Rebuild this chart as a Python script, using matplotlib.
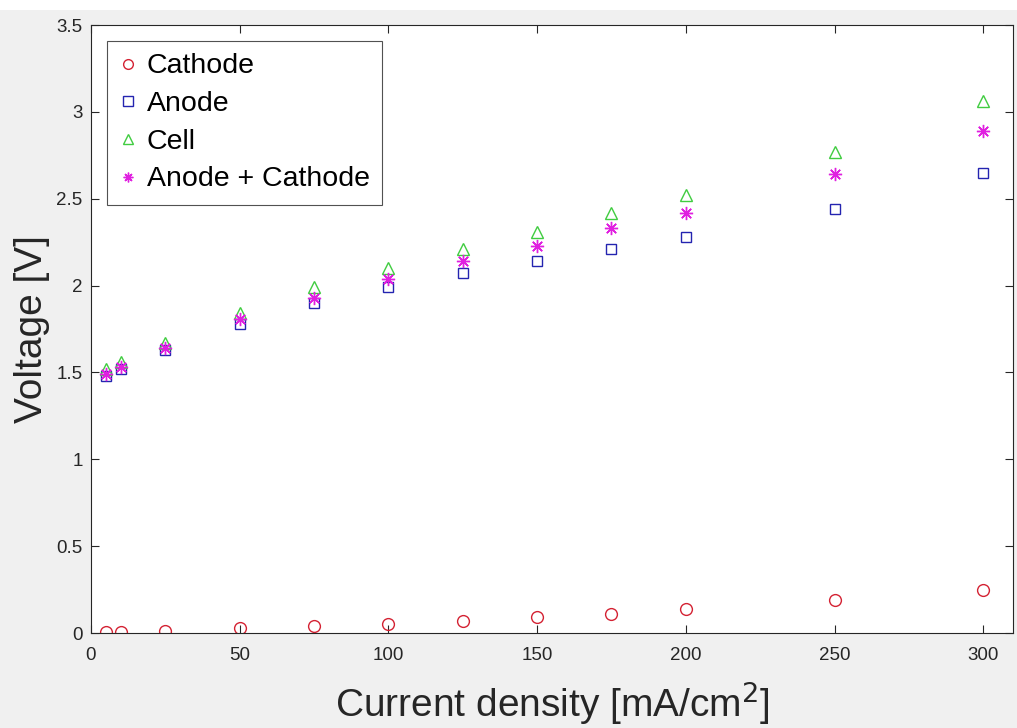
import matplotlib
matplotlib.use("Agg")
import matplotlib.pyplot as plt

plt.rcParams['font.family'] = ['Liberation Sans', 'DejaVu Sans']

current = [5, 10, 25, 50, 75, 100, 125, 150, 175, 200, 250, 300]
cathode = [0.003, 0.005, 0.01, 0.03, 0.04, 0.05, 0.07, 0.09, 0.11, 0.14, 0.19, 0.25]
anode = [1.48, 1.52, 1.63, 1.78, 1.90, 1.99, 2.07, 2.14, 2.21, 2.28, 2.44, 2.65]
cell = [1.52, 1.56, 1.67, 1.84, 1.99, 2.10, 2.21, 2.31, 2.42, 2.52, 2.77, 3.06]
anode_cathode = [1.49, 1.53, 1.64, 1.81, 1.93, 2.04, 2.14, 2.23, 2.33, 2.42, 2.64, 2.89]

xticks = [0, 50, 100, 150, 200, 250, 300]
yticks = [0, 0.5, 1, 1.5, 2, 2.5, 3, 3.5]
ytick_labels = ['0', '0.5', '1', '1.5', '2', '2.5', '3', '3.5']

fig = plt.figure(figsize=(10.17, 7.28), dpi=100, facecolor='#f0f0f0')
fig.patches.append(plt.Rectangle((0, 1 - 10 / 728), 1, 10 / 728, transform=fig.transFigure,
                                 facecolor='white', edgecolor='none', zorder=-1))
ax = fig.add_axes([91 / 1017, 1 - 633 / 728, (1013 - 91) / 1017, (633 - 25) / 728])
ax.set_facecolor('white')

ax.plot(current, cathode, 'o', mfc='none', mec='#d42233', ms=8.5, mew=1.0,
        linestyle='none', label='Cathode')
ax.plot(current, anode, 's', mfc='none', mec='#2424b0', ms=7.5, mew=1.0,
        linestyle='none', label='Anode')
ax.plot(current, cell, '^', mfc='none', mec='#40cc40', ms=8.5, mew=1.0,
        linestyle='none', label='Cell')
ax.plot(current, anode_cathode, marker=(8, 2, 0), mec='#e020e0', mfc='none', ms=9.5, mew=1.0,
        linestyle='none', label='Anode + Cathode')

ax.set_xlim(0, 310)
ax.set_ylim(0, 3.5)
ax.set_xticks(xticks)
ax.set_yticks(yticks)
ax.set_yticklabels(ytick_labels)
ax.tick_params(direction='in', top=True, right=True, labelsize=13.5, colors='#262626',
               length=6, width=0.8)
ax.tick_params(axis='x', pad=10)
ax.tick_params(axis='y', pad=6)
for s in ax.spines.values():
    s.set_color('#262626')
    s.set_linewidth(0.8)

ax.set_xlabel('Current density [mA/cm$^2$]', fontsize=28, color='#262626')
ax.set_ylabel('Voltage [V]', fontsize=28, color='#262626')
ax.xaxis.set_label_coords(0.5, -0.076)
ax.yaxis.set_label_coords(-0.045, 0.5)

leg = ax.legend(loc='upper left', fontsize=20.5, frameon=True, fancybox=False,
                edgecolor='#262626', borderpad=0.45, handletextpad=0.35,
                handlelength=0.6, labelspacing=0.41, borderaxespad=0.55)
leg.get_frame().set_linewidth(0.8)
for h in leg.legend_handles:
    h.set_markersize(7)

fig.savefig('out.png', dpi=100, facecolor=fig.get_facecolor())
